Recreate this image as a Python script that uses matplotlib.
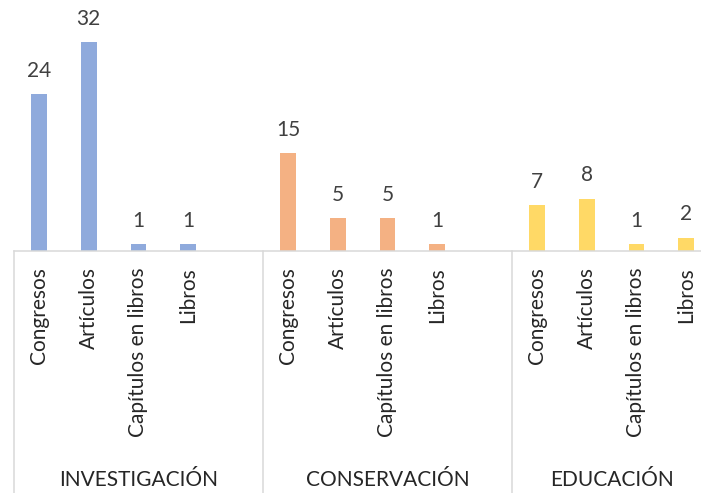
import matplotlib
matplotlib.use('Agg')
from matplotlib import pyplot as plt

# data
groups = ['INVESTIGACIÓN', 'CONSERVACIÓN', 'EDUCACIÓN']
categories = ['Congresos', 'Artículos', 'Capítulos en libros', 'Libros']
investigacion = [24, 32, 1, 1]
conservacion = [15, 5, 5, 1]
educacion = [7, 8, 1, 2]
colors = ['#8FAADC', '#F4B183', '#FFD966']

values = [investigacion, conservacion, educacion]

plt.rcParams['font.family'] = ['Lato', 'DejaVu Sans']

W, H = 701, 493
fig = plt.figure(figsize=(W / 100, H / 100), dpi=100)
base_px = 251          # y of category axis line, from top
left_px = 14
slot_px = 49.8
unit_px = 6.53

ax = fig.add_axes([left_px / W, (H - base_px) / H, (W - left_px) / W, base_px / H])
ax.set_xlim(-0.5, -0.5 + (W - left_px) / slot_px)
ax.set_ylim(0, base_px / unit_px)

px = 72 / 100  # points per pixel
label_color = '#262626'
num_color = '#404040'
line_color = '#D9D9D9'

bounds = []
for g, (name, vals) in enumerate(zip(groups, values)):
    start = g * 5 - 0.5
    nslots = 4 if g == len(groups) - 1 else 5
    end = start + nslots
    bounds.append(start)
    xs = [g * 5 + i for i in range(len(categories))]
    ax.bar(xs, vals, width=0.32, color=colors[g], zorder=2)
    for x, v, cat in zip(xs, vals, categories):
        ax.annotate(str(v), xy=(x, v), xytext=(0, 17.5 * px), textcoords='offset points',
                    ha='center', va='baseline', fontsize=15, color=num_color)
        ax.annotate(cat, xy=(x, 0), xycoords=ax.get_xaxis_transform(),
                    xytext=(0, -16 * px), textcoords='offset points',
                    rotation=90, ha='center', va='top', fontsize=15, color=label_color)
    ax.text((start + end) / 2, (base_px - 486) / base_px, name,
            transform=ax.get_xaxis_transform(), ha='center', va='baseline',
            fontsize=15, color=label_color)
bounds.append(13.5)

for b in bounds:
    ax.plot([b, b], [0, -(H - base_px) / base_px], transform=ax.get_xaxis_transform(),
            color=line_color, lw=1.1, clip_on=False)

for s in ['top', 'left', 'right']:
    ax.spines[s].set_visible(False)
ax.spines['bottom'].set_color(line_color)
ax.spines['bottom'].set_linewidth(1.1)
ax.set_xticks([])
ax.set_yticks([])

fig.savefig('out.png', dpi=100)
